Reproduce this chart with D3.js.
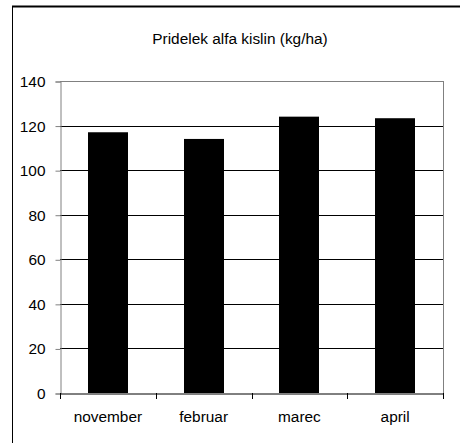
<!DOCTYPE html>
<html>
<head>
<meta charset="utf-8">
<script src="https://cdnjs.cloudflare.com/ajax/libs/d3/7.8.5/d3.min.js"></script>
<style>
  html, body { margin: 0; padding: 0; background: #fff; }
  svg { display: block; }
  text { font-family: "Liberation Sans", Arial, sans-serif; fill: #000; }
</style>
</head>
<body>
<svg id="chart" width="460" height="443"></svg>
<script>
const title = "Pridelek alfa kislin (kg/ha)";
const categories = ["november", "februar", "marec", "april"];
const values = [117, 114, 124, 123.3];
const yTicks = [0, 20, 40, 60, 80, 100, 120, 140];

const svg = d3.select("#chart");
const W = 460, H = 443;
const plot = { left: 60, right: 443, top: 81, bottom: 393 };

// outer chart frame (top and left visible)
svg.append("line").attr("x1", 12).attr("x2", W).attr("y1", 6.5).attr("y2", 6.5)
  .attr("stroke", "#000").attr("stroke-width", 2);
svg.append("line").attr("x1", 12.5).attr("x2", 12.5).attr("y1", 6).attr("y2", H)
  .attr("stroke", "#000").attr("stroke-width", 1);

// title
svg.append("text").attr("x", 240).attr("y", 44).attr("text-anchor", "middle")
  .attr("font-size", 15.4).text(title);

const x = d3.scaleBand().domain(categories).range([plot.left, plot.right]).paddingInner(0).paddingOuter(0);
const y = d3.scaleLinear().domain([0, 140]).range([plot.bottom, plot.top]);

// gridlines
svg.append("g").selectAll("line").data(yTicks.filter(t => t > 0 && t < 140)).join("line")
  .attr("x1", plot.left).attr("x2", plot.right)
  .attr("y1", d => Math.round(y(d)) + 0.5).attr("y2", d => Math.round(y(d)) + 0.5)
  .attr("stroke", "#000").attr("stroke-width", 1);

// plot area border (top/right)
svg.append("line").attr("x1", plot.left).attr("x2", plot.right + 0.5)
  .attr("y1", plot.top + 0.5).attr("y2", plot.top + 0.5).attr("stroke", "#808080");
svg.append("line").attr("x1", plot.right + 0.5).attr("x2", plot.right + 0.5)
  .attr("y1", plot.top).attr("y2", plot.bottom).attr("stroke", "#808080");

// bars
const barW = 40;
svg.append("g").selectAll("rect").data(values).join("rect")
  .attr("x", (d, i) => Math.round(x(categories[i]) + x.bandwidth() / 2 - barW / 2))
  .attr("width", barW)
  .attr("y", d => y(d))
  .attr("height", d => plot.bottom - y(d))
  .attr("fill", "#000");

// y axis
const yAxis = d3.axisLeft(y).tickValues(yTicks).tickSize(5).tickPadding(10).tickFormat(d3.format("d"));
const gy = svg.append("g").attr("transform", `translate(${plot.left + 0.5},0.5)`).call(yAxis);
gy.select(".domain").attr("stroke", "#808080");
gy.selectAll(".tick line").attr("stroke", "#808080");
gy.selectAll("text").attr("font-size", 15.4).attr("font-family", "Liberation Sans, Arial, sans-serif").attr("fill", "#000");

// x axis
const xAxis = d3.axisBottom(x).tickSize(0).tickPadding(0);
const gx = svg.append("g").attr("transform", `translate(0,${plot.bottom + 0.5})`).call(xAxis);
gx.select(".domain").attr("stroke", "#000");
gx.selectAll(".tick text").attr("dy", null).attr("y", 28)
  .attr("font-size", 15.4).attr("font-family", "Liberation Sans, Arial, sans-serif").attr("fill", "#000");
// category boundary tick marks
const bounds = categories.map(c => x(c)).concat([x.range()[1]]);
svg.append("g").selectAll("line").data(bounds).join("line")
  .attr("x1", d => Math.round(d) + 0.5).attr("x2", d => Math.round(d) + 0.5)
  .attr("y1", plot.bottom).attr("y2", plot.bottom + 6)
  .attr("stroke", "#000");
</script>
</body>
</html>
